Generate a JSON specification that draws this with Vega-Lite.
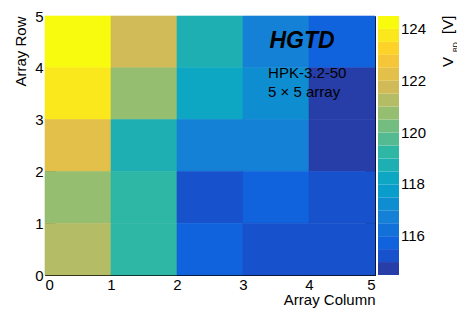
{
  "$schema": "https://vega.github.io/schema/vega-lite/v6.json",
  "autosize": {"type": "none"},
  "width": 330,
  "height": 259,
  "padding": {"left": 45, "top": 16, "right": 82, "bottom": 53},
  "background": "white",
  "config": {
    "view": {"stroke": "black", "strokeWidth": 1},
    "font": "Liberation Sans",
    "axis": {"labelFont": "Liberation Sans", "labelFontSize": 15, "labelColor": "black", "titleFont": "Liberation Sans", "titleFontSize": 15, "titleFontWeight": "normal", "titleColor": "black", "grid": false, "domain": false, "tickColor": "black", "tickWidth": 1},
    "legend": {"labelFont": "Liberation Sans", "labelFontSize": 15, "labelColor": "black"}
  },
  "resolve": {"axis": {"x": "independent", "y": "independent"}},
  "layer": [
    {
      "data": {"values": [
        {"col": 0, "row": 4, "v": 124.3}, {"col": 1, "row": 4, "v": 121.8}, {"col": 2, "row": 4, "v": 118.8}, {"col": 3, "row": 4, "v": 116.7}, {"col": 4, "row": 4, "v": 115.8},
        {"col": 0, "row": 3, "v": 123.7}, {"col": 1, "row": 3, "v": 120.8}, {"col": 2, "row": 3, "v": 118.2}, {"col": 3, "row": 3, "v": 117.3}, {"col": 4, "row": 3, "v": 114.7},
        {"col": 0, "row": 2, "v": 122.3}, {"col": 1, "row": 2, "v": 118.7}, {"col": 2, "row": 2, "v": 116.8}, {"col": 3, "row": 2, "v": 116.7}, {"col": 4, "row": 2, "v": 114.8},
        {"col": 0, "row": 1, "v": 120.7}, {"col": 1, "row": 1, "v": 119.3}, {"col": 2, "row": 1, "v": 115.2}, {"col": 3, "row": 1, "v": 115.7}, {"col": 4, "row": 1, "v": 115.3},
        {"col": 0, "row": 0, "v": 121.2}, {"col": 1, "row": 0, "v": 119.2}, {"col": 2, "row": 0, "v": 115.8}, {"col": 3, "row": 0, "v": 115.3}, {"col": 4, "row": 0, "v": 115.2}
      ]},
      "transform": [
        {"calculate": "datum.col + 1", "as": "col2"},
        {"calculate": "datum.row + 1", "as": "row2"}
      ],
      "mark": {"type": "rect", "strokeWidth": 0.6},
      "encoding": {
        "x": {"field": "col", "type": "quantitative", "scale": {"domain": [0, 5], "nice": false, "zero": false},
          "axis": {"orient": "bottom", "values": [0, 1, 2, 3, 4, 5], "tickSize": -8, "labelPadding": 10, "title": "Array Column", "titleAnchor": "end", "titleAlign": "right", "titleX": 330, "titleY": 29, "titleBaseline": "alphabetic"}},
        "x2": {"field": "col2"},
        "y": {"field": "row", "type": "quantitative", "scale": {"domain": [0, 5], "nice": false, "zero": false},
          "axis": {"orient": "left", "values": [0, 1, 2, 3, 4, 5], "tickSize": -10, "labelPadding": 12, "title": "Array Row", "titleAngle": 270, "titleAlign": "right", "titleBaseline": "alphabetic", "titleX": -20, "titleY": 0}},
        "y2": {"field": "row2"},
        "color": {"field": "v", "type": "quantitative",
          "scale": {"type": "quantize", "domain": [114.5, 124.5], "nice": false,
            "range": ["#273DA8", "#1751CB", "#1063DC", "#1271D9", "#1480D6", "#0E8ED1", "#099DCC", "#0DA7C3", "#1EAFB3", "#2EB7A4", "#53BA91", "#74BD80", "#96BE71", "#B4BD65", "#D1BB59", "#E3C04A", "#F5C63A", "#FDD32A", "#FBE81C", "#F9FB0E"]},
          "legend": {"type": "gradient", "title": null, "orient": "right", "offset": 2, "gradientLength": 259, "gradientThickness": 21, "gradientStrokeWidth": 0, "labelOffset": 2, "padding": 0,
            "labelExpr": "abs(datum.value - round(datum.value)) < 0.01 && round(datum.value) % 2 == 0 ? format(datum.value, 'd') : ''"}},
        "stroke": {"field": "v", "type": "quantitative", "legend": null,
          "scale": {"type": "quantize", "domain": [114.5, 124.5], "nice": false,
            "range": ["#273DA8", "#1751CB", "#1063DC", "#1271D9", "#1480D6", "#0E8ED1", "#099DCC", "#0DA7C3", "#1EAFB3", "#2EB7A4", "#53BA91", "#74BD80", "#96BE71", "#B4BD65", "#D1BB59", "#E3C04A", "#F5C63A", "#FDD32A", "#FBE81C", "#F9FB0E"]}}
      }
    },
    {
      "data": {"values": [{}]},
      "mark": {"type": "text", "text": "HGTD", "font": "Liberation Sans", "fontWeight": "bold", "fontStyle": "italic", "fontSize": 23, "align": "left", "baseline": "alphabetic", "color": "black"},
      "encoding": {
        "x": {"datum": 3.4, "type": "quantitative", "scale": {"domain": [0, 5]}, "axis": {"orient": "top", "values": [1, 2, 3, 4], "tickSize": -8, "labels": false, "title": null}},
        "y": {"datum": 4.38, "type": "quantitative", "scale": {"domain": [0, 5]}, "axis": {"orient": "right", "values": [1, 2, 3, 4], "tickSize": -10, "labels": false, "title": null}}
      }
    },
    {
      "data": {"values": [{}]},
      "mark": {"type": "text", "text": "HPK-3.2-50", "font": "Liberation Sans", "fontSize": 15, "align": "left", "baseline": "alphabetic", "color": "black"},
      "encoding": {
        "x": {"datum": 3.38, "type": "quantitative", "axis": null},
        "y": {"datum": 3.8, "type": "quantitative", "axis": null}
      }
    },
    {
      "data": {"values": [{}]},
      "mark": {"type": "text", "text": "5 × 5 array", "font": "Liberation Sans", "fontSize": 15, "align": "left", "baseline": "alphabetic", "color": "black"},
      "encoding": {
        "x": {"datum": 3.38, "type": "quantitative", "axis": null},
        "y": {"datum": 3.44, "type": "quantitative", "axis": null}
      }
    },
    {
      "data": {"values": [{}]},
      "mark": {"type": "text", "text": "V", "font": "Liberation Sans", "fontSize": 15, "angle": 270, "align": "left", "baseline": "alphabetic", "color": "black"},
      "encoding": {
        "x": {"datum": 6.18, "type": "quantitative", "axis": null},
        "y": {"datum": 4.015, "type": "quantitative", "axis": null}
      }
    },
    {
      "data": {"values": [{}]},
      "mark": {"type": "text", "text": "BD", "font": "Liberation Sans", "fontSize": 7, "angle": 270, "align": "left", "baseline": "alphabetic", "color": "black"},
      "encoding": {
        "x": {"datum": 6.25, "type": "quantitative", "axis": null},
        "y": {"datum": 4.305, "type": "quantitative", "axis": null}
      }
    },
    {
      "data": {"values": [{}]},
      "mark": {"type": "text", "text": "[V]", "font": "Liberation Sans", "fontSize": 15, "angle": 270, "align": "left", "baseline": "alphabetic", "color": "black"},
      "encoding": {
        "x": {"datum": 6.18, "type": "quantitative", "axis": null},
        "y": {"datum": 4.653, "type": "quantitative", "axis": null}
      }
    }
  ]
}
